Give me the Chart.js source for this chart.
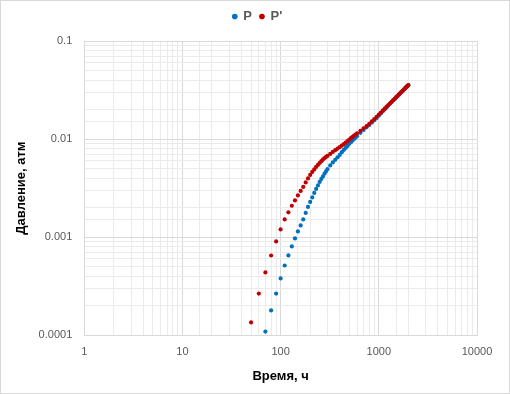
<!DOCTYPE html>
<html>
<head>
<meta charset="utf-8">
<script src="https://cdn.jsdelivr.net/npm/chart.js@4.4.1/dist/chart.umd.min.js"></script>
<style>
  html, body { margin: 0; padding: 0; background: #fff; }
  #wrap { width: 510px; height: 394px; position: relative; }
</style>
</head>
<body>
<div id="wrap"><canvas id="myChart" width="510" height="394"></canvas></div>
<script>
// time, h
const times = [50, 60, 70, 80, 90, 100, 110, 120, 130, 140, 150, 160, 170, 180, 190, 200,
  210, 220, 230, 240, 250, 260, 270, 280, 290, 300, 320, 340, 360, 380, 400, 420, 440,
  460, 480, 500, 520, 540, 560, 580, 600, 650, 700, 750, 800, 850, 900, 950, 1000,
  1050, 1100, 1150, 1200, 1250, 1300, 1350, 1400, 1450, 1500, 1550, 1600, 1650, 1700,
  1750, 1800, 1850, 1900, 1950, 2000];

// P, atm (below 0.0001 at 50 and 60 h -> not shown)
const pValues = [null, null, 1.09e-4, 1.79e-4, 2.66e-4, 3.79e-4, 5.14e-4, 6.51e-4, 8.04e-4,
  9.70e-4, 1.144e-3, 1.317e-3, 1.516e-3, 1.765e-3, 2.033e-3, 2.287e-3, 2.542e-3, 2.825e-3,
  3.102e-3, 3.370e-3, 3.659e-3, 3.926e-3, 4.163e-3, 4.435e-3, 4.681e-3, 4.930e-3, 5.389e-3,
  5.784e-3, 6.135e-3, 6.506e-3, 6.899e-3, 7.349e-3, 7.757e-3, 8.131e-3, 8.522e-3, 8.934e-3,
  9.30e-3, 9.65e-3, 1.002e-2, 1.036e-2, 1.070e-2, 1.157e-2, 1.239e-2, 1.316e-2, 1.393e-2,
  1.474e-2, 1.555e-2, 1.641e-2, 1.733e-2, 1.826e-2, 1.918e-2, 2.010e-2, 2.103e-2, 2.196e-2,
  2.290e-2, 2.382e-2, 2.474e-2, 2.566e-2, 2.658e-2, 2.748e-2, 2.838e-2, 2.928e-2, 3.018e-2,
  3.108e-2, 3.196e-2, 3.285e-2, 3.373e-2, 3.462e-2, 3.550e-2];

// P', atm
const dpValues = [1.35e-4, 2.66e-4, 4.37e-4, 6.50e-4, 9.04e-4, 1.199e-3, 1.516e-3, 1.79e-3,
  2.09e-3, 2.37e-3, 2.664e-3, 2.96e-3, 3.253e-3, 3.616e-3, 3.972e-3, 4.312e-3, 4.627e-3,
  4.907e-3, 5.203e-3, 5.453e-3, 5.715e-3, 5.948e-3, 6.206e-3, 6.383e-3, 6.581e-3, 6.738e-3,
  7.063e-3, 7.402e-3, 7.703e-3, 7.999e-3, 8.265e-3, 8.583e-3, 8.872e-3, 9.21e-3, 9.52e-3,
  9.88e-3, 1.021e-2, 1.053e-2, 1.083e-2, 1.111e-2, 1.143e-2, 1.213e-2, 1.286e-2, 1.354e-2,
  1.429e-2, 1.516e-2, 1.596e-2, 1.684e-2, 1.778e-2, 1.862e-2, 1.958e-2, 2.041e-2, 2.137e-2,
  2.220e-2, 2.315e-2, 2.398e-2, 2.492e-2, 2.575e-2, 2.670e-2, 2.752e-2, 2.848e-2, 2.930e-2,
  3.026e-2, 3.108e-2, 3.204e-2, 3.286e-2, 3.380e-2, 3.465e-2, 3.556e-2];

const xTickLabels = ['1', '10', '100', '1000', '10000'];
const yTickLabels = ['0.0001', '0.001', '0.01', '0.1'];

function toPoints(vals) {
  const pts = [];
  times.forEach((t, i) => { if (vals[i] != null) pts.push({ x: t, y: vals[i] }); });
  return pts;
}

function decade(v) {
  const l = Math.log10(v);
  return Math.abs(l - Math.round(l)) < 1e-6 ? Math.round(l) : null;
}

const gridColor = (c) => decade(c.tick.value) !== null ? '#d9d9d9' : '#ebebeb';

// outer border, a bit of space under the legend, legend centred over the plot
const frame = {
  id: 'frame',
  beforeInit(chart) {
    const fit = chart.legend.fit;
    chart.legend.fit = function () {
      fit.call(this);
      this.height += 8;
    };
  },
  afterUpdate(chart) {
    chart.legend.left += 12;
    chart.legend.right += 12;
  },
  afterDraw(chart) {
    const g = chart.ctx;
    g.save();
    g.strokeStyle = '#d9d9d9';
    g.lineWidth = 1;
    g.strokeRect(0.5, 0.5, chart.width - 1, chart.height - 1);
    g.restore();
  }
};

const ctx = document.getElementById('myChart').getContext('2d');
const myChart = new Chart(ctx, {
  type: 'scatter',
  data: {
    datasets: [{
      label: 'P',
      data: toPoints(pValues),
      backgroundColor: '#0070C0',
      borderWidth: 0,
      pointRadius: 2.1,
      order: 2
    }, {
      label: "P'",
      data: toPoints(dpValues),
      backgroundColor: '#C00000',
      borderWidth: 0,
      pointRadius: 2.1,
      order: 1
    }]
  },
  options: {
    responsive: false,
    animation: false,
    layout: { padding: { top: 2, left: 14, right: 33, bottom: 10 } },
    plugins: {
      tooltip: { enabled: false },
      legend: {
        position: 'top',
        labels: {
          usePointStyle: true,
          pointStyle: 'circle',
          boxWidth: 4,
          boxHeight: 4,
          padding: 8,
          color: '#595959',
          font: { family: 'Liberation Sans', size: 13, weight: 'bold' },
          sort: (a, b) => a.datasetIndex - b.datasetIndex
        }
      }
    },
    scales: {
      x: {
        type: 'logarithmic',
        min: 1,
        max: 10000,
        grid: { color: gridColor, drawTicks: false },
        border: { color: '#d9d9d9' },
        ticks: {
          autoSkip: false,
          maxRotation: 0,
          padding: 10,
          color: '#595959',
          font: { family: 'Liberation Sans', size: 11 },
          callback: (v) => { const d = decade(v); return d === null ? '' : xTickLabels[d]; }
        },
        title: {
          display: true,
          text: 'Время, ч',
          color: '#000',
          font: { family: 'Liberation Sans', size: 13, weight: 'bold' },
          padding: { top: 0, bottom: 0 }
        }
      },
      y: {
        type: 'logarithmic',
        min: 0.0001,
        max: 0.1,
        grid: { color: gridColor, drawTicks: false },
        border: { color: '#d9d9d9' },
        ticks: {
          autoSkip: false,
          padding: 12,
          color: '#595959',
          font: { family: 'Liberation Sans', size: 11 },
          callback: (v) => { const d = decade(v); return d === null ? '' : yTickLabels[d + 4]; }
        },
        title: {
          display: true,
          text: 'Давление, атм',
          color: '#000',
          font: { family: 'Liberation Sans', size: 13, weight: 'bold' },
          padding: { top: 0, bottom: -3 }
        }
      }
    }
  },
  plugins: [frame]
});
</script>
</body>
</html>
